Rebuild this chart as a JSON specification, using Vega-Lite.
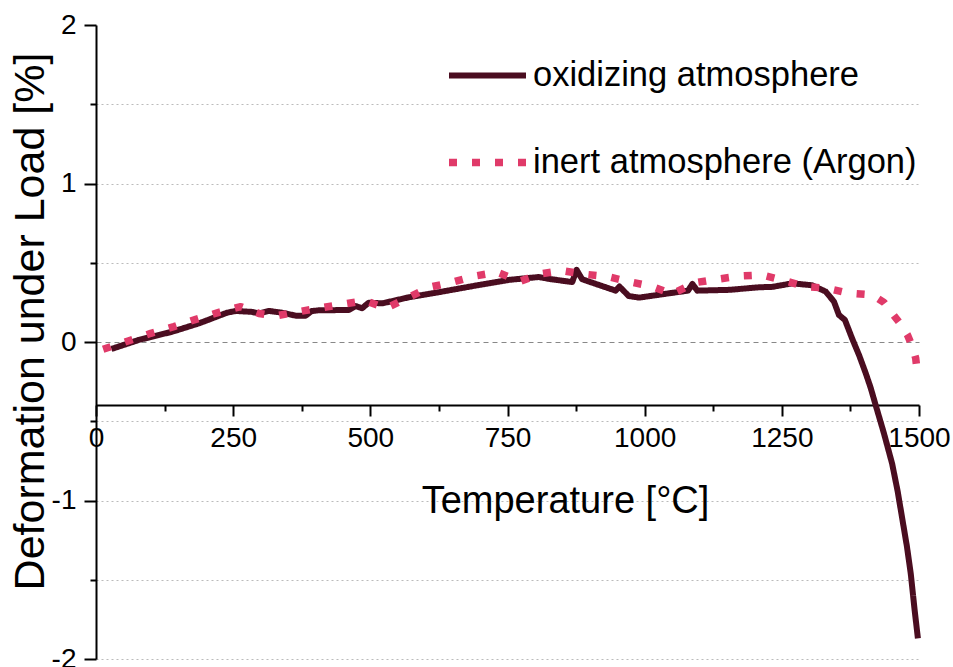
{
  "$schema": "https://vega.github.io/schema/vega-lite/v6.json",
  "width": 823,
  "height": 634,
  "autosize": {"type": "none"},
  "padding": {"left": 96, "top": 25, "right": 34, "bottom": 8},
  "background": "white",
  "config": {
    "view": {"stroke": null},
    "font": "Liberation Sans",
    "axis": {"labelFont": "Liberation Sans", "titleFont": "Liberation Sans", "labelColor": "black", "titleColor": "black", "titleFontWeight": "normal"},
    "legend": {"labelFont": "Liberation Sans"}
  },
  "data": {
    "values": [
      {"s": "oxidizing atmosphere", "T": 28, "v": -0.044},
      {"s": "oxidizing atmosphere", "T": 78, "v": 0.013},
      {"s": "oxidizing atmosphere", "T": 139, "v": 0.065},
      {"s": "oxidizing atmosphere", "T": 188, "v": 0.118},
      {"s": "oxidizing atmosphere", "T": 239, "v": 0.185},
      {"s": "oxidizing atmosphere", "T": 255, "v": 0.196},
      {"s": "oxidizing atmosphere", "T": 284, "v": 0.19},
      {"s": "oxidizing atmosphere", "T": 297, "v": 0.18},
      {"s": "oxidizing atmosphere", "T": 315, "v": 0.196},
      {"s": "oxidizing atmosphere", "T": 339, "v": 0.185},
      {"s": "oxidizing atmosphere", "T": 364, "v": 0.166},
      {"s": "oxidizing atmosphere", "T": 382, "v": 0.166},
      {"s": "oxidizing atmosphere", "T": 393, "v": 0.195},
      {"s": "oxidizing atmosphere", "T": 406, "v": 0.2},
      {"s": "oxidizing atmosphere", "T": 461, "v": 0.202},
      {"s": "oxidizing atmosphere", "T": 473, "v": 0.227},
      {"s": "oxidizing atmosphere", "T": 485, "v": 0.213},
      {"s": "oxidizing atmosphere", "T": 497, "v": 0.248},
      {"s": "oxidizing atmosphere", "T": 522, "v": 0.244},
      {"s": "oxidizing atmosphere", "T": 570, "v": 0.282},
      {"s": "oxidizing atmosphere", "T": 631, "v": 0.318},
      {"s": "oxidizing atmosphere", "T": 692, "v": 0.356},
      {"s": "oxidizing atmosphere", "T": 753, "v": 0.392},
      {"s": "oxidizing atmosphere", "T": 807, "v": 0.41},
      {"s": "oxidizing atmosphere", "T": 826, "v": 0.398},
      {"s": "oxidizing atmosphere", "T": 868, "v": 0.378},
      {"s": "oxidizing atmosphere", "T": 876, "v": 0.455},
      {"s": "oxidizing atmosphere", "T": 886, "v": 0.396},
      {"s": "oxidizing atmosphere", "T": 947, "v": 0.324},
      {"s": "oxidizing atmosphere", "T": 954, "v": 0.35},
      {"s": "oxidizing atmosphere", "T": 971, "v": 0.29},
      {"s": "oxidizing atmosphere", "T": 990, "v": 0.28},
      {"s": "oxidizing atmosphere", "T": 1044, "v": 0.307},
      {"s": "oxidizing atmosphere", "T": 1079, "v": 0.324},
      {"s": "oxidizing atmosphere", "T": 1087, "v": 0.366},
      {"s": "oxidizing atmosphere", "T": 1096, "v": 0.324},
      {"s": "oxidizing atmosphere", "T": 1154, "v": 0.329},
      {"s": "oxidizing atmosphere", "T": 1208, "v": 0.345},
      {"s": "oxidizing atmosphere", "T": 1233, "v": 0.348},
      {"s": "oxidizing atmosphere", "T": 1269, "v": 0.37},
      {"s": "oxidizing atmosphere", "T": 1305, "v": 0.358},
      {"s": "oxidizing atmosphere", "T": 1330, "v": 0.318},
      {"s": "oxidizing atmosphere", "T": 1345, "v": 0.255},
      {"s": "oxidizing atmosphere", "T": 1354, "v": 0.171},
      {"s": "oxidizing atmosphere", "T": 1365, "v": 0.139},
      {"s": "oxidizing atmosphere", "T": 1378, "v": 0.023},
      {"s": "oxidizing atmosphere", "T": 1391, "v": -0.085},
      {"s": "oxidizing atmosphere", "T": 1403, "v": -0.198},
      {"s": "oxidizing atmosphere", "T": 1412, "v": -0.29},
      {"s": "oxidizing atmosphere", "T": 1421, "v": -0.398},
      {"s": "oxidizing atmosphere", "T": 1436, "v": -0.575},
      {"s": "oxidizing atmosphere", "T": 1451, "v": -0.767},
      {"s": "oxidizing atmosphere", "T": 1461, "v": -0.94},
      {"s": "oxidizing atmosphere", "T": 1470, "v": -1.125},
      {"s": "oxidizing atmosphere", "T": 1478, "v": -1.29},
      {"s": "oxidizing atmosphere", "T": 1485, "v": -1.462},
      {"s": "oxidizing atmosphere", "T": 1492, "v": -1.69},
      {"s": "oxidizing atmosphere", "T": 1498, "v": -1.87},
      {"s": "inert atmosphere (Argon)", "T": 13, "v": -0.046},
      {"s": "inert atmosphere (Argon)", "T": 60, "v": 0.008},
      {"s": "inert atmosphere (Argon)", "T": 100, "v": 0.055},
      {"s": "inert atmosphere (Argon)", "T": 142, "v": 0.097},
      {"s": "inert atmosphere (Argon)", "T": 182, "v": 0.143},
      {"s": "inert atmosphere (Argon)", "T": 224, "v": 0.187},
      {"s": "inert atmosphere (Argon)", "T": 264, "v": 0.223},
      {"s": "inert atmosphere (Argon)", "T": 297, "v": 0.18},
      {"s": "inert atmosphere (Argon)", "T": 327, "v": 0.164},
      {"s": "inert atmosphere (Argon)", "T": 367, "v": 0.19},
      {"s": "inert atmosphere (Argon)", "T": 406, "v": 0.213},
      {"s": "inert atmosphere (Argon)", "T": 449, "v": 0.238},
      {"s": "inert atmosphere (Argon)", "T": 491, "v": 0.261},
      {"s": "inert atmosphere (Argon)", "T": 528, "v": 0.213},
      {"s": "inert atmosphere (Argon)", "T": 567, "v": 0.276},
      {"s": "inert atmosphere (Argon)", "T": 607, "v": 0.345},
      {"s": "inert atmosphere (Argon)", "T": 649, "v": 0.377},
      {"s": "inert atmosphere (Argon)", "T": 692, "v": 0.417},
      {"s": "inert atmosphere (Argon)", "T": 731, "v": 0.44},
      {"s": "inert atmosphere (Argon)", "T": 773, "v": 0.383},
      {"s": "inert atmosphere (Argon)", "T": 810, "v": 0.43},
      {"s": "inert atmosphere (Argon)", "T": 850, "v": 0.45},
      {"s": "inert atmosphere (Argon)", "T": 889, "v": 0.428},
      {"s": "inert atmosphere (Argon)", "T": 932, "v": 0.413},
      {"s": "inert atmosphere (Argon)", "T": 971, "v": 0.381},
      {"s": "inert atmosphere (Argon)", "T": 1014, "v": 0.35},
      {"s": "inert atmosphere (Argon)", "T": 1050, "v": 0.303},
      {"s": "inert atmosphere (Argon)", "T": 1093, "v": 0.375},
      {"s": "inert atmosphere (Argon)", "T": 1132, "v": 0.396},
      {"s": "inert atmosphere (Argon)", "T": 1175, "v": 0.417},
      {"s": "inert atmosphere (Argon)", "T": 1214, "v": 0.423},
      {"s": "inert atmosphere (Argon)", "T": 1257, "v": 0.385},
      {"s": "inert atmosphere (Argon)", "T": 1293, "v": 0.35},
      {"s": "inert atmosphere (Argon)", "T": 1333, "v": 0.339},
      {"s": "inert atmosphere (Argon)", "T": 1372, "v": 0.308},
      {"s": "inert atmosphere (Argon)", "T": 1415, "v": 0.297},
      {"s": "inert atmosphere (Argon)", "T": 1436, "v": 0.25},
      {"s": "inert atmosphere (Argon)", "T": 1451, "v": 0.181},
      {"s": "inert atmosphere (Argon)", "T": 1466, "v": 0.115},
      {"s": "inert atmosphere (Argon)", "T": 1479, "v": 0.044},
      {"s": "inert atmosphere (Argon)", "T": 1488, "v": -0.03},
      {"s": "inert atmosphere (Argon)", "T": 1494, "v": -0.103},
      {"s": "inert atmosphere (Argon)", "T": 1498, "v": -0.223}
    ]
  },
  "mark": {"type": "line", "strokeCap": "butt", "strokeJoin": "round", "clip": false},
  "encoding": {
    "x": {
      "field": "T",
      "type": "quantitative",
      "scale": {"domain": [0, 1500], "nice": false, "zero": false},
      "axis": {
        "orient": "bottom",
        "offset": -254,
        "values": [0, 125, 250, 375, 500, 625, 750, 875, 1000, 1125, 1250, 1375, 1500],
        "labelExpr": "datum.value % 250 === 0 ? toString(datum.value) : ''",
        "labelFontSize": 28,
        "labelPadding": 8,
        "labelFlush": false,
        "labelOverlap": false,
        "domainColor": "black",
        "domainWidth": 2,
        "tickColor": "black",
        "tickWidth": 2,
        "tickSize": {"condition": {"test": "datum.value % 250 === 0", "value": 11}, "value": 6},
        "grid": false,
        "title": "Temperature [°C]",
        "titleFontSize": 38,
        "titleX": 469,
        "titleY": 96,
        "titleAlign": "center",
        "titleBaseline": "middle"
      }
    },
    "y": {
      "field": "v",
      "type": "quantitative",
      "scale": {"domain": [-2, 2], "nice": false, "zero": false},
      "axis": {
        "values": [-2, -1.5, -1, -0.5, 0, 0.5, 1, 1.5, 2],
        "labelExpr": "datum.value % 1 === 0 ? toString(datum.value) : ''",
        "labelFontSize": 28,
        "labelPadding": 8,
        "labelFlush": false,
        "labelOverlap": false,
        "domainColor": "black",
        "domainWidth": 2,
        "tickColor": "black",
        "tickWidth": 2,
        "tickSize": {"condition": {"test": "datum.value % 1 === 0", "value": 12}, "value": 6},
        "grid": true,
        "gridColor": {"condition": {"test": "datum.value === 0", "value": "#888888"}, "value": "#bbbbbb"},
        "gridDash": {"condition": {"test": "datum.value === 0", "value": [5, 4]}, "value": [2, 3]},
        "gridOpacity": {"condition": {"test": "datum.value === 2", "value": 0}, "value": 1},
        "gridWidth": 1,
        "title": "Deformation under Load [%]",
        "titleFontSize": 43,
        "titleX": -66,
        "titleY": 296,
        "titleAlign": "center",
        "titleBaseline": "middle",
        "titleAngle": -90
      }
    },
    "strokeWidth": {
      "field": "s",
      "type": "nominal",
      "scale": {"domain": ["oxidizing atmosphere", "inert atmosphere (Argon)"], "range": [6, 7.5]},
      "legend": null
    },
    "color": {
      "field": "s",
      "type": "nominal",
      "scale": {"domain": ["oxidizing atmosphere", "inert atmosphere (Argon)"], "range": ["#4a0d20", "#e03a69"]},
      "legend": {
        "title": null,
        "orient": "none",
        "legendX": 349,
        "legendY": 9,
        "padding": 0,
        "symbolType": "stroke",
        "symbolSize": 5929,
        "symbolStrokeWidth": 7,
        "labelFontSize": 34.5,
        "labelColor": "black",
        "labelOffset": 3,
        "rowPadding": 28,
        "labelLimit": 500
      }
    },
    "strokeDash": {
      "field": "s",
      "type": "nominal",
      "scale": {"domain": ["oxidizing atmosphere", "inert atmosphere (Argon)"], "range": [[1, 0], [8, 15]]},
      "legend": {
        "title": null,
        "orient": "none",
        "legendX": 349,
        "legendY": 9,
        "padding": 0,
        "symbolType": "stroke",
        "symbolSize": 5929,
        "symbolStrokeWidth": 7,
        "labelFontSize": 34.5,
        "labelColor": "black",
        "labelOffset": 3,
        "rowPadding": 28,
        "labelLimit": 500
      }
    }
  }
}
